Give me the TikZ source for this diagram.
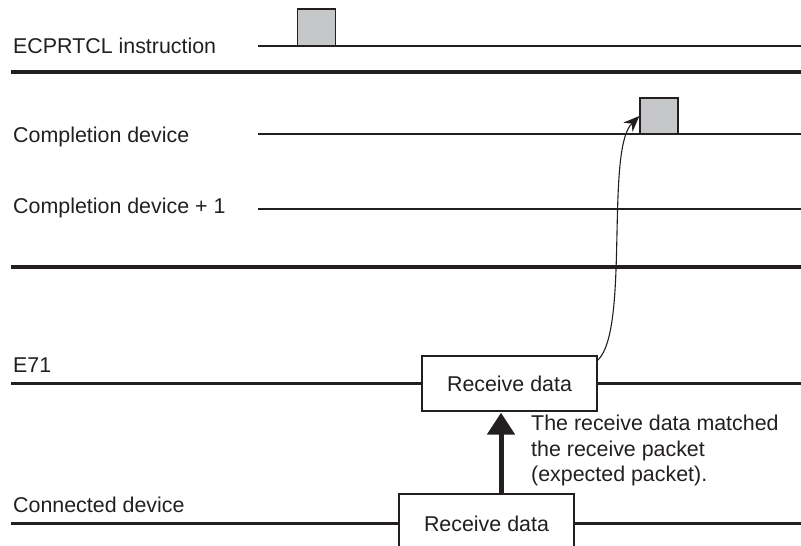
\documentclass[tikz,border=0pt]{standalone}
\usepackage{fontspec}
\setmainfont{Liberation Sans}
\usepackage{xcolor}
\usepackage{tikz}
\usetikzlibrary{arrows.meta,positioning,calc}
\definecolor{ink}{HTML}{231F20}
\definecolor{pulsegray}{HTML}{C6C7C9}
\tikzset{
  lbl/.style={anchor=base west, inner sep=0pt, text=ink,
    font=\fontsize{21.4}{25.5}\selectfont},
  sigline/.style={draw=ink, line width=1.3pt},
  sepline/.style={draw=ink, line width=3.2pt},
  busline/.style={draw=ink, line width=3pt},
  pulsebox/.style={rectangle, draw=ink, fill=pulsegray, line width=1.3pt,
    inner sep=0pt, minimum width=38pt, minimum height=36pt},
  rxbox/.style={rectangle, draw=ink, fill=white, line width=1.3pt,
    minimum width=175pt, minimum height=#1, inner sep=0pt,
    font=\fontsize{21.4}{25.5}\selectfont, text=ink},
  rxbox/.default=55pt,
  matcharrow/.style={-{Triangle[length=22pt,width=27pt]}, draw=ink,
    fill=ink, line width=5pt},
  donearrow/.style={-{Stealth[length=16pt,width=13pt]}, draw=ink,
    line width=1.1pt}
}
\begin{document}
\begin{tikzpicture}[x=1pt,y=-1pt]
\useasboundingbox (0,0) rectangle (801,546);
% labels
\node[lbl] (lcmd) at (13,53) {ECPRTCL instruction};
\node[lbl] (ldone) at (13,142) {Completion device};
\node[lbl] (lerr) at (13,213) {Completion device + 1};
\node[lbl] (le71) at (13,372) {E71};
\node[lbl] (lcon) at (13,512) {Connected device};
% signals
\draw[sigline] (258,46) -- (801,46);
\node[pulsebox, minimum height=37pt] (pcmd) at (316.5,27.5) {};
\draw[sepline] (11,72) -- (801,72);
\draw[sigline] (258,134) -- (801,134);
\node[pulsebox] (pdone) at (659,116) {};
\draw[sigline] (258,209) -- (801,209);
\draw[sepline] (11,267) -- (801,267);
% E71 / connected device
\draw[busline] (11,383) -- (801,383);
\node[rxbox] (rxE71) at (509.5,383.5) {Receive data};
\draw[busline] (11,523) -- (801,523);
\node[rxbox=60pt] (rxCon) at (486.5,524) {Receive data};
\coordinate (upx) at (501,0);
\draw[matcharrow, shorten >=1pt] (upx |- rxCon.north) -- (upx |- rxE71.south);
\node[lbl, align=left, anchor=north west] (note) at (531,415)
  {The receive data matched\\the receive packet\\(expected packet).};
\draw[donearrow] ([yshift=-5pt]rxE71.north east)
  .. controls (630,330) and (605,150) .. (pdone.west);
\end{tikzpicture}
\end{document}
